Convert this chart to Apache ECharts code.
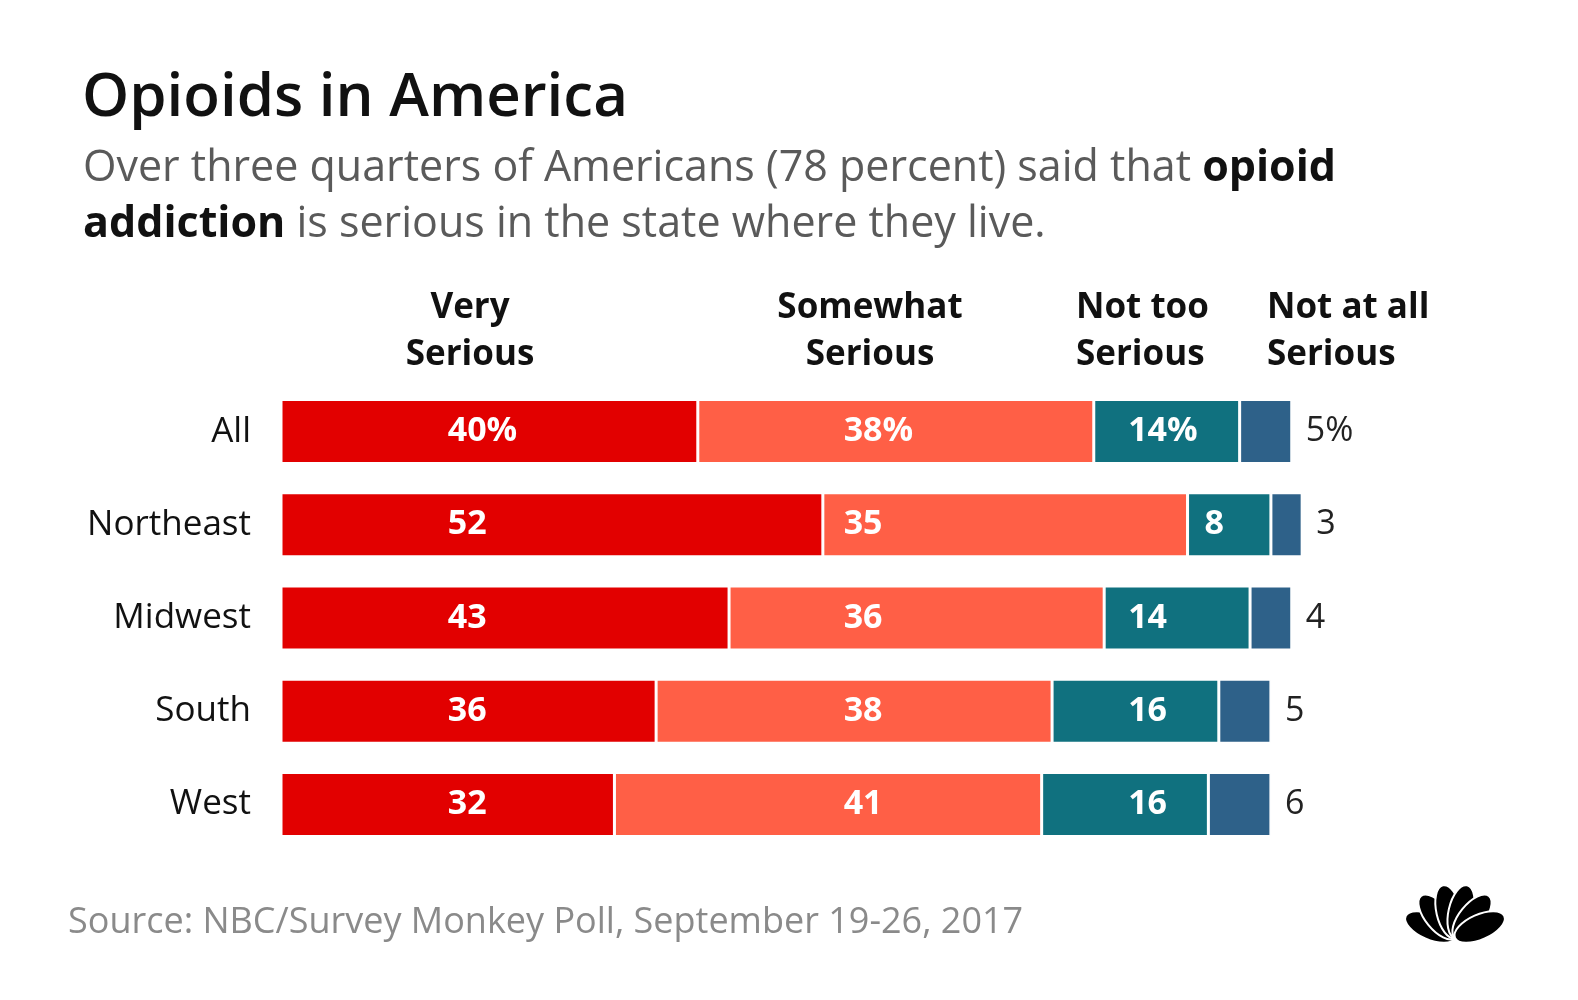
<!DOCTYPE html>
<html>
<head>
<meta charset="utf-8">
<script src="https://cdn.jsdelivr.net/npm/echarts@6/dist/echarts.min.js"></script>
<style>
html,body{margin:0;padding:0;background:#fff;}
#c{width:1578px;height:1000px;}
</style>
</head>
<body>
<div id="c"></div>
<script>
const categories = ['All', 'Northeast', 'Midwest', 'South', 'West'];
const seriesNames = ['Very Serious', 'Somewhat Serious', 'Not too Serious', 'Not at all Serious'];
const verySerious = [40, 52, 43, 36, 32];
const somewhatSerious = [38, 35, 36, 38, 41];
const notTooSerious = [14, 8, 14, 16, 16];
const notAtAllSerious = [5, 3, 4, 5, 6];
const headerLines = [['Very', 'Serious'], ['Somewhat', 'Serious'], ['Not too', 'Serious'], ['Not at all', 'Serious']];

const colors = ['#E20000', '#FF5F46', '#10717F', '#2E6189'];
const FONT = '"Open Sans", Lato, sans-serif';
const gridLeft = 281, gridWidth = 1042, gridTop = 385, gridHeight = 466;
const pxPerUnit = gridWidth / 100;
// label anchors (axis units) for inside labels, left-aligned like the reference
const labelAnchors = [16.0, 54.0, 81.3];
const minPad = 17;

const allValues = [verySerious, somewhatSerious, notTooSerious, notAtAllSerious];

function buildSeries() {
  const out = [];
  for (let s = 0; s < 4; s++) {
    const data = allValues[s].map((v, i) => {
      let start = 0;
      for (let k = 0; k < s; k++) start += allValues[k][i];
      const item = { value: v };
      if (s < 3) {
        const off = Math.max((labelAnchors[s] - start) * pxPerUnit, minPad);
        item.label = { position: [off, '50%'] };
      }
      return item;
    });
    out.push({
      name: seriesNames[s],
      type: 'bar',
      stack: 'total',
      barWidth: 64,
      itemStyle: { color: colors[s], borderColor: '#fff', borderWidth: 1.5 },
      label: s < 3 ? {
        show: true,
        align: 'left',
        verticalAlign: 'middle',
        color: '#fff',
        fontWeight: 'bold',
        fontSize: 34,
        fontFamily: FONT,
        formatter: p => p.dataIndex === 0 ? p.value + '%' : String(p.value)
      } : {
        show: true,
        position: 'right',
        distance: 14,
        color: '#222',
        fontSize: 34,
        fontFamily: FONT,
        formatter: p => p.dataIndex === 0 ? p.value + '%' : String(p.value)
      },
      data: data
    });
  }
  return out;
}

// header anchor positions (px) and alignment
const headerPos = [
  { x: 470, align: 'center' },
  { x: 870, align: 'center' },
  { x: 1076, align: 'left' },
  { x: 1267, align: 'left' }
];

const graphics = [
  { type: 'text', x: 82, y: 99, style: { text: 'Opioids in America', font: '600 60px ' + FONT, fill: '#111', verticalAlign: 'middle' } },
  { type: 'text', x: 83, y: 169, style: {
      text: 'Over three quarters of Americans (78 percent) said that {b|opioid}',
      font: '43px ' + FONT, fill: '#5a5a5a', verticalAlign: 'middle',
      rich: { b: { fontWeight: 'bold', fill: '#111', fontSize: 43, fontFamily: FONT } } } },
  { type: 'text', x: 83, y: 225, style: {
      text: '{b|addiction} is serious in the state where they live.',
      font: '43px ' + FONT, fill: '#5a5a5a', verticalAlign: 'middle',
      rich: { b: { fontWeight: 'bold', fill: '#111', fontSize: 43, fontFamily: FONT } } } },
  { type: 'text', x: 68, y: 923, style: {
      text: 'Source: NBC/Survey Monkey Poll, September 19-26, 2017',
      font: '36px ' + FONT, fill: '#8a8a8a', verticalAlign: 'middle' } }
];
headerLines.forEach((lines, i) => {
  lines.forEach((t, j) => {
    graphics.push({ type: 'text', x: headerPos[i].x, y: 308 + j * 47,
      style: { text: t, font: 'bold 35px ' + FONT, fill: '#111', align: headerPos[i].align, verticalAlign: 'middle' } });
  });
});
// NBC peacock logo
const feathers = [];
const angles = [-66, -39, -13, 13, 39, 66];
angles.forEach(a => {
  feathers.push({ type: 'ellipse', rotation: -a * Math.PI / 180, originX: 0, originY: 0,
    shape: { cx: 0, cy: -27, rx: 12.5, ry: 27 },
    style: { fill: '#000', stroke: '#fff', lineWidth: 2 } });
});
graphics.push({ type: 'group', x: 1455, y: 938, children: feathers });

const chart = echarts.init(document.getElementById('c'), null, { renderer: 'canvas' });
chart.setOption({
  backgroundColor: '#fff',
  animation: false,
  grid: { left: gridLeft, top: gridTop, width: gridWidth, height: gridHeight, containLabel: false },
  xAxis: { type: 'value', min: 0, max: 100, show: false },
  yAxis: {
    type: 'category', data: categories, inverse: true,
    axisLine: { show: false }, axisTick: { show: false },
    axisLabel: { color: '#111', fontSize: 35, fontFamily: FONT, margin: 30 }
  },
  series: buildSeries(),
  graphic: graphics
});
</script>
</body>
</html>
